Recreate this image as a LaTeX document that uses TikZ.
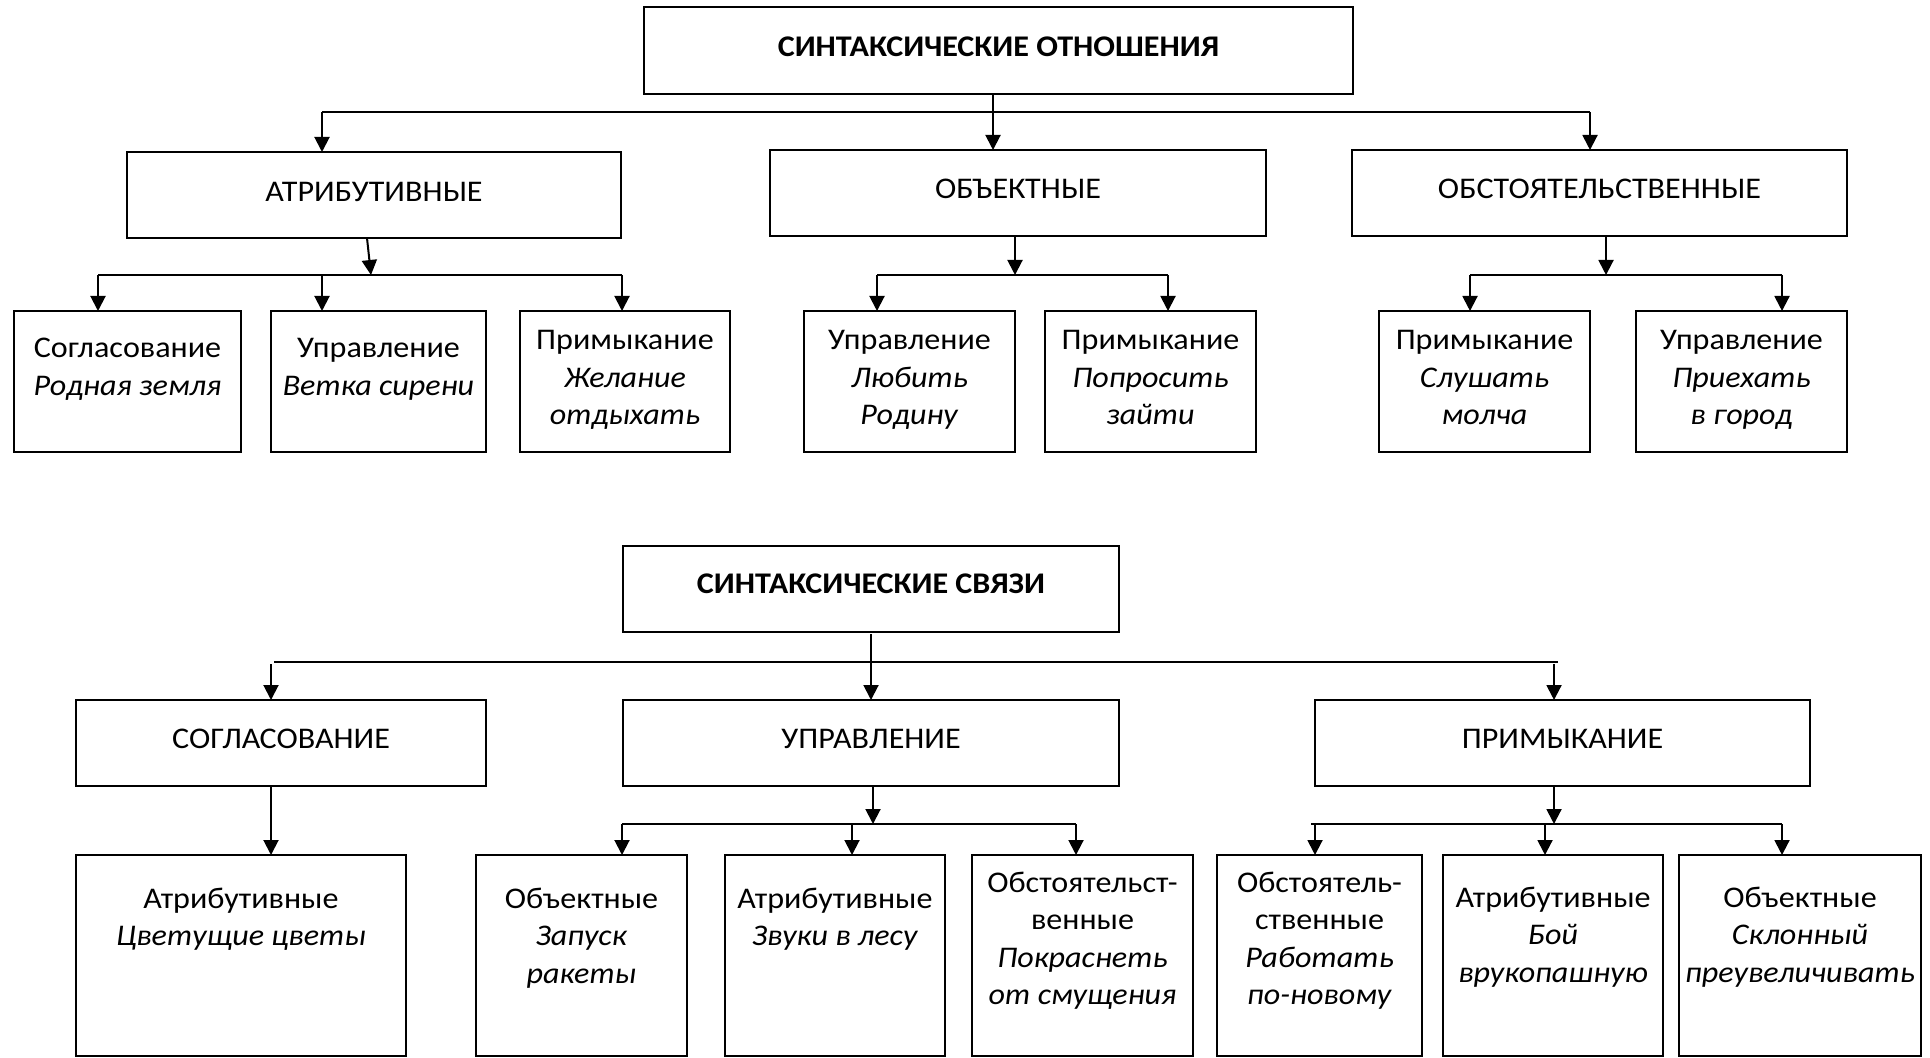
\documentclass[tikz,border=0pt]{standalone}
\usepackage{fontspec}
\setmainfont{Carlito}[FakeStretch=1.07]
\usetikzlibrary{arrows.meta,calc}
\newcommand\mkbox[7]{%
  \node[box,anchor=north west,minimum width={(#4-#2)*0.5pt},minimum height={(#5-#3)*0.5pt}] (#1) at (#2,#3) {};
  \node[txt,anchor=north] (#1t) at ($(#1.north)+(0,#6-26.25)$) {\strut #7};
}
\begin{document}
\begin{tikzpicture}[x=0.5pt,y=-0.5pt,
  box/.style={draw=black,line width=1pt,inner sep=0pt,outer sep=0pt},
  txt/.style={inner sep=0pt,outer sep=0pt,align=center,font=\fontsize{15}{18.75}\selectfont},
  ln/.style={line width=1pt},
  arr/.style={line width=1pt,-{Triangle[width=7.5pt,length=7.5pt]}}]
\fill[white] (0,0) rectangle (1930,1058);
\useasboundingbox (0,0) rectangle (1930,1058);

% ---------- top tree ----------
\mkbox{r1}{644}{7}{1353}{94}{50}{\textbf{СИНТАКСИЧЕСКИЕ ОТНОШЕНИЯ}}
\mkbox{a1}{127}{152}{621}{238}{50}{АТРИБУТИВНЫЕ}
\mkbox{b1}{770}{150}{1266}{236}{49}{ОБЪЕКТНЫЕ}
\mkbox{c1}{1352}{150}{1847}{236}{49}{ОБСТОЯТЕЛЬСТВЕННЫЕ}
\mkbox{a11}{14}{311}{241}{452}{47}{Согласование\\\textit{Родная земля}}
\mkbox{a12}{271}{311}{486}{452}{47}{Управление\\\textit{Ветка сирени}}
\mkbox{a13}{520}{311}{730}{452}{39}{Примыкание\\\textit{Желание}\\\textit{отдыхать}}
\mkbox{b11}{804}{311}{1015}{452}{39}{Управление\\\textit{Любить}\\\textit{Родину}}
\mkbox{b12}{1045}{311}{1256}{452}{39}{Примыкание\\\textit{Попросить}\\\textit{зайти}}
\mkbox{c11}{1379}{311}{1590}{452}{39}{Примыкание\\\textit{Слушать}\\\textit{молча}}
\mkbox{c12}{1636}{311}{1847}{452}{39}{Управление\\\textit{Приехать}\\\textit{в город}}

\coordinate (t1L) at (322,112);
\coordinate (t1R) at (1590,112);
\coordinate (r1s) at ([xshift=-2.75pt]r1.south);
\draw[ln] (t1L) -- (t1R);
\draw[arr] (t1L) -- (t1L |- a1.north);
\draw[arr] (t1R) -- (t1R |- c1.north);
\draw[arr] (r1s) -- (r1s |- b1.north);

\coordinate (a1s) at ([xshift=-3.5pt]a1.south);
\coordinate (a1e) at (371,275);
\coordinate (aL) at (98,275);
\coordinate (aM) at (322,275);
\coordinate (aR) at (622,275);
\draw[ln] (aL) -- (aR);
\draw[arr] (a1s) -- (a1e);
\draw[arr] (aL) -- (aL |- a11.north);
\draw[arr] (aM) -- (aM |- a12.north);
\draw[arr] (aR) -- (aR |- a13.north);

\coordinate (b1s) at ([xshift=-1.5pt]b1.south);
\coordinate (bL) at (877,275);
\coordinate (bR) at (1168,275);
\draw[ln] (bL) -- (bR);
\draw[arr] (b1s) -- (b1s |- bL);
\draw[arr] (bL) -- (bL |- b11.north);
\draw[arr] (bR) -- (bR |- b12.north);

\coordinate (c1s) at ([xshift=3.25pt]c1.south);
\coordinate (cL) at (1470,275);
\coordinate (cR) at (1782,275);
\draw[ln] (cL) -- (cR);
\draw[arr] (c1s) -- (c1s |- cL);
\draw[arr] (cL) -- (cL |- c11.north);
\draw[arr] (cR) -- (cR |- c12.north);

% ---------- bottom tree ----------
\mkbox{r2}{623}{546}{1119}{632}{47}{\textbf{СИНТАКСИЧЕСКИЕ СВЯЗИ}}
\mkbox{d1}{76}{700}{486}{786}{48}{СОГЛАСОВАНИЕ}
\mkbox{e1}{623}{700}{1119}{786}{48}{УПРАВЛЕНИЕ}
\mkbox{f1}{1315}{700}{1810}{786}{48}{ПРИМЫКАНИЕ}
\mkbox{d11}{76}{855}{406}{1056}{53}{Атрибутивные\\\textit{Цветущие цветы}}
\mkbox{e11}{476}{855}{687}{1056}{53}{Объектные\\\textit{Запуск}\\\textit{ракеты}}
\mkbox{e12}{725}{855}{945}{1056}{53}{Атрибутивные\\\textit{Звуки в лесу}}
\mkbox{e13}{972}{855}{1193}{1056}{37}{Обстоятельст-\\венные\\\textit{Покраснеть}\\\textit{от смущения}}
\mkbox{f11}{1217}{855}{1422}{1056}{37}{Обстоятель-\\ственные\\\textit{Работать}\\\textit{по-новому}}
\mkbox{f12}{1443}{855}{1663}{1056}{52}{Атрибутивные\\\textit{Бой}\\\textit{врукопашную}}
\mkbox{f13}{1679}{855}{1921}{1056}{52}{Объектные\\\textit{Склонный}\\\textit{преувеличивать}}

\coordinate (r2s) at ([yshift=-1pt]r2.south);
\draw[arr] (r2s) -- (r2s |- e1.north);
\coordinate (sL) at (274,662);
\coordinate (sR) at (1558,662);
\coordinate (sLa) at (271,664);
\coordinate (sRa) at (1554,664);
\draw[ln] (sL) -- (sR);
\draw[arr] (sLa) -- (sLa |- d1.north);
\draw[arr] (sRa) -- (sRa |- f1.north);

\coordinate (d1s) at ([xshift=-5pt]d1.south);
\draw[arr] (d1s) -- (d1s |- d11.north);

\coordinate (e1s) at ([xshift=1pt]e1.south);
\coordinate (eL) at (622,824);
\coordinate (eM) at (852,824);
\coordinate (eR) at (1076,824);
\draw[ln] (eL) -- (eR);
\draw[arr] (e1s) -- (e1s |- eL);
\draw[arr] (eL) -- (eL |- e11.north);
\draw[arr] (eM) -- (eM |- e12.north);
\draw[arr] (eR) -- (eR |- e13.north);

\coordinate (f1s) at ([xshift=-4.25pt]f1.south);
\coordinate (fL) at (1311,824);
\coordinate (fLa) at (1315,825);
\coordinate (fM) at (1545,824);
\coordinate (fR) at (1782,824);
\draw[ln] (fL) -- (fR);
\draw[arr] (f1s) -- (f1s |- fL);
\draw[arr] (fLa) -- (fLa |- f11.north);
\draw[arr] (fM) -- (fM |- f12.north);
\draw[arr] (fR) -- (fR |- f13.north);
\end{tikzpicture}
\end{document}
